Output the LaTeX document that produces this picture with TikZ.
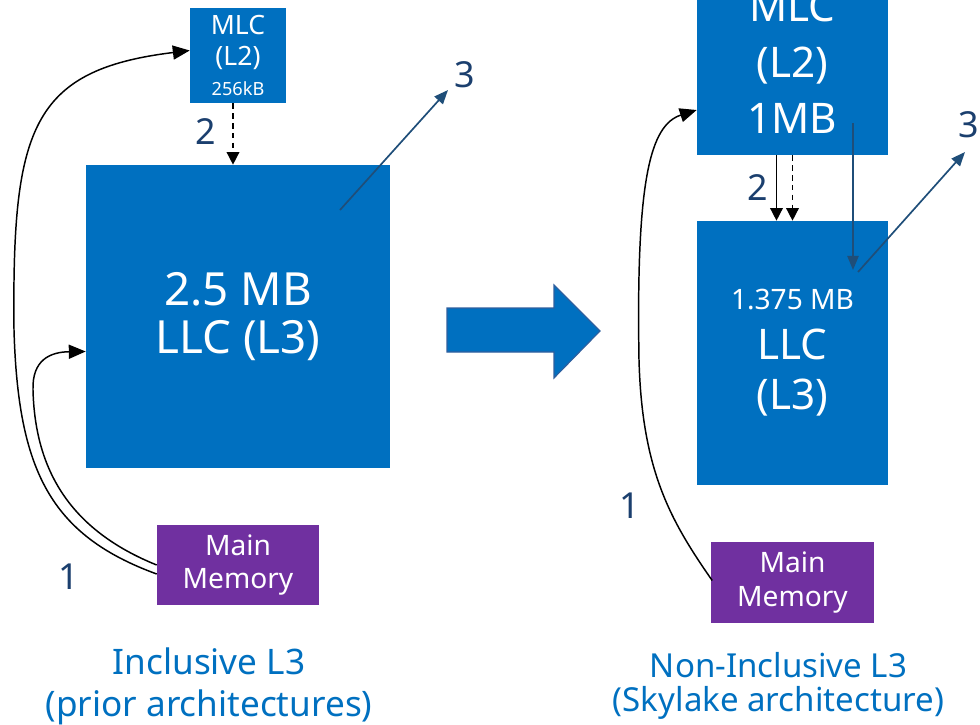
\documentclass[tikz,border=0pt]{standalone}
\usepackage{fontspec}
\setmainfont{Noto Sans}
\usetikzlibrary{arrows.meta,calc}

\definecolor{cacheblue}{HTML}{0070C0}
\definecolor{mempurple}{HTML}{7030A0}
\definecolor{stepnavy}{HTML}{1B3F6E}
\definecolor{evictblue}{HTML}{1F4E79}
\definecolor{shiftedge}{HTML}{2F5F9E}

\begin{document}
\begin{tikzpicture}[x=0.025cm, y=-0.025cm]
\tikzstyle{cache}=[rectangle, fill=cacheblue, text=white, inner sep=0pt, align=center]
\tikzstyle{mem}=[rectangle, fill=mempurple, text=white, inner sep=0pt, align=center, minimum width=4.05cm, minimum height=2cm, font=\fontsize{20}{24}\selectfont]
\tikzstyle{stepno}=[text=stepnavy, inner sep=0pt, font=\fontsize{25.5}{28}\selectfont]
\tikzstyle{caption}=[text=cacheblue, inner sep=0pt, align=center]
\tikzstyle{fill link}=[-{Triangle[length=12pt,width=10pt]}, line width=1.05pt]
\tikzstyle{move link}=[-{Triangle[length=9pt,width=9pt]}, line width=1.05pt]
\tikzstyle{evict}=[-{Triangle[length=10pt,width=8pt]}, line width=1.2pt, draw=evictblue, fill=evictblue]
\useasboundingbox (0,0) rectangle (980,724);
\clip (0,0) rectangle (980,724);

% inclusive L3
\node[cache, minimum width=2.4cm, minimum height=2.375cm, font=\fontsize{18.9}{22}\selectfont] (mlcA) at (238,55.5) {MLC\\(L2)\\{\fontsize{12.9}{14}\selectfont 256kB}};
\node[cache, minimum width=7.6cm, minimum height=7.575cm, font=\fontsize{32.5}{34.5}\selectfont] (llcA) at (238,316.5) {2.5 MB\\LLC (L3)};
\node[mem] (memA) at (238,565) {Main\\Memory};

% non-inclusive L3
\node[cache, minimum width=4.775cm, minimum height=4.65cm, font=\fontsize{30}{40}\selectfont] (mlcB) at (792.5,62) {MLC\\(L2)\\1MB};
\node[cache, minimum width=4.775cm, minimum height=6.6cm, font=\fontsize{30}{35.5}\selectfont] (llcB) at (792.5,353) {{\fontsize{20}{24}\selectfont 1.375 MB}\\LLC\\(L3)};
\node[mem] (memB) at (792.5,582.5) {Main\\Memory};

% big arrow between the two
\filldraw[fill=cacheblue, draw=shiftedge, line width=0.8pt] (447,308) -- (554,308) -- (554,285) -- (600,331) -- (554,378) -- (554,352) -- (447,352) -- cycle;

\node[caption, font=\fontsize{25}{30}\selectfont] (capA) at (209,686) {Inclusive L3\\(prior architectures)};
\node[caption, font=\fontsize{23.5}{24.5}\selectfont] (capB) at (778.5,686) {Non-Inclusive L3\\(Skylake architecture)};

% 1: fill from memory
\draw[fill link] ($(memA.west)+(0,9)$) .. controls (50,535) and (18,470) .. (14,330) .. controls (12,130) and (30,70) .. ($(mlcA.west)+(0,-5)$);
\draw[fill link] (memA.west) .. controls (70,530) and (35,470) .. (33,390) .. controls (32,360) and (50,352) .. ($(llcA.west)+(0,35)$);
\draw[fill link] ($(memB.west)+(1,-2)$) .. controls (670,520) and (642,470) .. (639,360) .. controls (636,180) and (650,125) .. ($(mlcB.west)+(0,48)$);

% 2: MLC to LLC
\draw[move link, dash pattern=on 4pt off 3pt] ($(mlcA.south)+(-5,0)$) -- ($(llcA.north)+(-5,0)$);
\draw[move link] ($(mlcB.south)+(-16,0)$) -- ($(llcB.north)+(-16,0)$);
\draw[move link, dash pattern=on 4pt off 3pt] (mlcB.south) -- (llcB.north);

% 3: evictions
\coordinate (evA) at (340,210);
\coordinate (evA end) at (448,90);
\draw[evict] (evA) -- (evA end);
\coordinate (wbB) at (853,123);
\coordinate (wbB end) at (853,270);
\draw[evict] (wbB) -- (wbB end);
\coordinate (evB) at (858,272);
\coordinate (evB end) at (965,152);
\draw[evict] (evB) -- (evB end);

\node[stepno] (oneA) at (69,577) {1};
\node[stepno] (twoA) at (206,132) {2};
\node[stepno] (threeA) at (465,75) {3};
\node[stepno] (oneB) at (630,506) {1};
\node[stepno] (twoB) at (758,188) {2};
\node[stepno] (threeB) at (969,125) {3};
\end{tikzpicture}
\end{document}
